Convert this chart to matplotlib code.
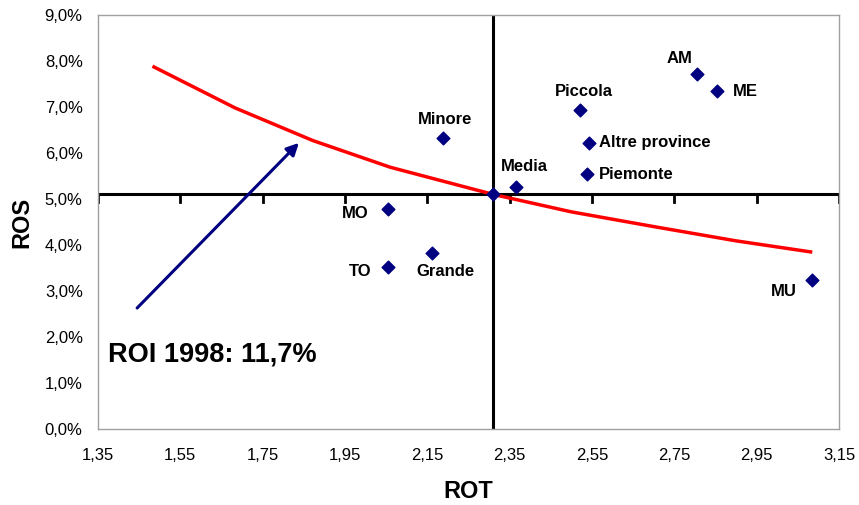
import numpy as np
import matplotlib.pyplot as plt
from matplotlib.ticker import FuncFormatter, FixedLocator, MultipleLocator

plt.rcParams['font.family'] = ['Liberation Sans', 'DejaVu Sans']

# data
names = ['AM', 'ME', 'Piccola', 'Altre province', 'Piemonte', 'Media',
         'Minore', 'MO', 'Grande', 'TO', 'MU', '']
rot = [2.804, 2.854, 2.521, 2.543, 2.539, 2.365, 2.189, 2.055, 2.161, 2.055, 3.084, 2.31]
ros = [7.72, 7.34, 6.93, 6.22, 5.54, 5.27, 6.32, 4.78, 3.83, 3.52, 3.24, 5.10]

# iso-ROI curve (ROI 1998 11,7%)
curve_rot = [1.486, 1.683, 1.872, 2.06, 2.31, 2.50, 2.70, 2.90, 3.081]
curve_ros = [7.87, 6.98, 6.27, 5.69, 5.10, 4.72, 4.40, 4.09, 3.85]

ref_rot = 2.31
ref_ros = 5.10

xticks = [1.35, 1.55, 1.75, 1.95, 2.15, 2.35, 2.55, 2.75, 2.95, 3.15]

arrow_start = (1.445, 2.63)
arrow_end = (1.838, 6.22)

# label offsets in points (dx, dy, ha, va)
offsets = {
    'AM': (-12, 6, 'center', 'bottom'),
    'ME': (11, 0, 'left', 'center'),
    'Piccola': (3, 8, 'center', 'bottom'),
    'Altre province': (7, 0, 'left', 'center'),
    'Piemonte': (8, 0, 'left', 'center'),
    'Media': (6, 9, 'center', 'bottom'),
    'Minore': (1, 8, 'center', 'bottom'),
    'MO': (-14, -3, 'right', 'center'),
    'Grande': (10, -8, 'center', 'top'),
    'TO': (-12, -3, 'right', 'center'),
    'MU': (-11, -3, 'right', 'top'),
}

fig = plt.figure(figsize=(8.59, 5.05), dpi=100)
ax = fig.add_axes([0.1141, 0.1505, 0.8626, 0.8198])

ax.set_xlim(1.35, 3.15)
ax.set_ylim(0, 9)
ax.xaxis.set_major_locator(FixedLocator(xticks))
ax.yaxis.set_major_locator(MultipleLocator(1))
ax.xaxis.set_major_formatter(FuncFormatter(lambda v, p: f'{v:.2f}'.replace('.', ',')))
ax.yaxis.set_major_formatter(FuncFormatter(lambda v, p: f'{v:.1f}%'.replace('.', ',')))
ax.tick_params(axis='both', length=0, labelsize=12)
ax.tick_params(axis='x', pad=14)
ax.tick_params(axis='y', pad=11)
for s in ax.spines.values():
    s.set_color('#a0a0a0')
    s.set_linewidth(1)

# crossing axes
ax.axhline(ref_ros, color='black', lw=2.2, zorder=2)
ax.axvline(ref_rot, color='black', lw=2.2, zorder=2)
for xt in xticks:
    ax.plot([xt, xt], [ref_ros, ref_ros - 0.16], color='black', lw=2, zorder=2)

ax.plot(curve_rot, curve_ros, color='#ff0000', lw=2.5, zorder=3)

ax.scatter(rot, ros, marker='D', s=42, color='#000080', zorder=4)
for n, x, y in zip(names, rot, ros):
    if not n:
        continue
    dx, dy, ha, va = offsets[n]
    ax.annotate(n, (x, y), xytext=(dx, dy), textcoords='offset points',
                ha=ha, va=va, fontsize=12, fontweight='bold')

ax.annotate('', xy=arrow_end, xytext=arrow_start,
            arrowprops=dict(arrowstyle='-|>', color='#000080', lw=2.2,
                            mutation_scale=18, shrinkA=0, shrinkB=0), zorder=3)

ax.text(1.374, 1.63, 'ROI 1998: 11,7%', fontsize=19.5, fontweight='bold',
        ha='left', va='center')

ax.set_xlabel('ROT', fontsize=17, fontweight='bold', labelpad=12)
ax.set_ylabel('ROS', fontsize=17, fontweight='bold', labelpad=8)

fig.savefig('out.png', dpi=100)
